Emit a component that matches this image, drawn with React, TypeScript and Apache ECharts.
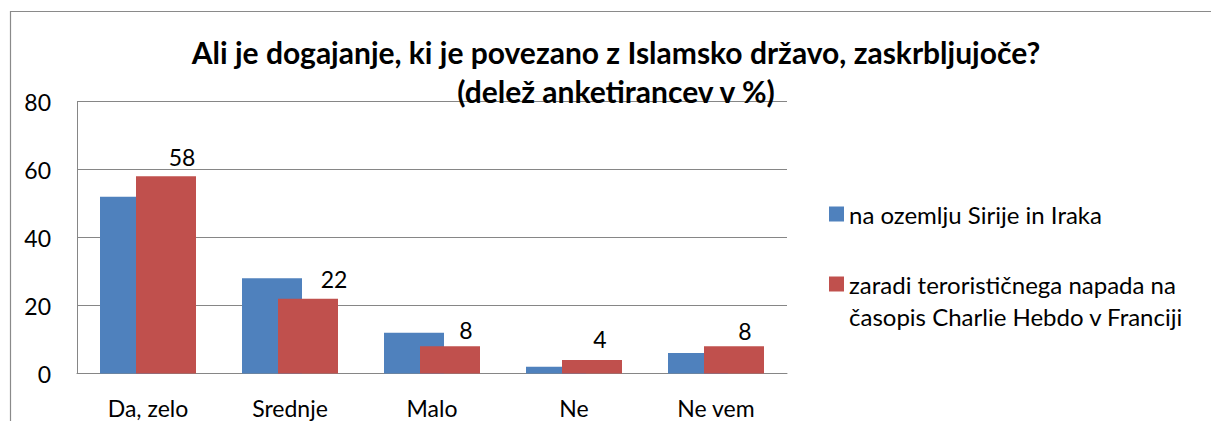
import React, { useEffect, useRef } from "react";
import * as echarts from "echarts";

const categories = ["Da, zelo", "Srednje", "Malo", "Ne", "Ne vem"];
const seriesNames = [
  "na ozemlju Sirije in Iraka",
  "zaradi terorističnega napada na časopis Charlie Hebdo v Franciji",
];
const syriaIraq = [52, 28, 12, 2, 6];
const charlieHebdo = [58, 22, 8, 4, 8];
const yMin = 0;
const yMax = 80;
const yStep = 20;
const titleLines = [
  "Ali je dogajanje, ki je povezano z Islamsko državo, zaskrbljujoče?",
  "(delež anketirancev v %)",
];

// label nudges (styling only) for the red series labels, [dx, dy]
const labelNudges = [
  [16, -1],
  [26, -1],
  [16, 2],
  [8, -2],
  [11, 3],
];

const FONT = "Lato";

export default function App() {
  const ref = useRef<HTMLDivElement>(null);

  useEffect(() => {
    if (!ref.current) return;
    const chart = echarts.init(ref.current, null, { renderer: "svg" });
    const option: any = {
      animation: false,
      backgroundColor: "#ffffff",
      textStyle: { fontFamily: FONT },
      title: {
        text: titleLines.join("\n"),
        left: 616,
        top: 32,
        textAlign: "center",
        padding: 0,
        textStyle: {
          fontFamily: FONT,
          fontWeight: "bold",
          fontSize: 30,
          lineHeight: 39,
          color: "#000000",
        },
      },
      graphic: [
        {
          type: "rect",
          silent: true,
          shape: { x: 10.5, y: 11.5, width: 1400, height: 600 },
          style: { fill: "none", stroke: "#8a8a8a", lineWidth: 1.2 },
          z: -1,
        },
      ],
      legend: {
        orient: "vertical",
        left: 829,
        top: 198,
        itemWidth: 15,
        itemHeight: 15,
        itemGap: 6,
        icon: "rect",
        padding: 0,
        textStyle: {
          fontFamily: FONT,
          fontSize: 24,
          lineHeight: 32,
          color: "#000000",
        },
        formatter: (name: string) =>
          name === seriesNames[1]
            ? "\nzaradi terorističnega napada na\nčasopis Charlie Hebdo v Franciji"
            : name,
        data: [{ name: seriesNames[0] }, { name: seriesNames[1] }],
      },
      grid: {
        left: 77,
        right: 424,
        top: 101.5,
        bottom: 47.5,
        containLabel: false,
      },
      xAxis: {
        type: "category",
        data: categories,
        axisLine: { show: true, lineStyle: { color: "#868686", width: 1 } },
        axisTick: { show: false },
        axisLabel: {
          margin: 23,
          fontFamily: FONT,
          fontSize: 23,
          color: "#000000",
        },
        splitLine: { show: false },
      },
      yAxis: {
        type: "value",
        min: yMin,
        max: yMax,
        interval: yStep,
        axisLine: { show: true, lineStyle: { color: "#868686", width: 1 } },
        axisTick: { show: false },
        axisLabel: {
          margin: 26,
          fontFamily: FONT,
          fontSize: 23,
          color: "#000000",
        },
        splitLine: { show: true, lineStyle: { color: "#868686", width: 1 } },
      },
      series: [
        {
          name: seriesNames[0],
          type: "bar",
          data: syriaIraq,
          barWidth: 60,
          barGap: "-40%",
          itemStyle: { color: "#4F81BD" },
        },
        {
          name: seriesNames[1],
          type: "bar",
          data: charlieHebdo.map((v, i) => ({
            value: v,
            label: { offset: labelNudges[i] },
          })),
          barWidth: 60,
          barGap: "-40%",
          itemStyle: { color: "#C0504D" },
          label: {
            show: true,
            position: "top",
            distance: 7,
            fontFamily: FONT,
            fontSize: 23,
            color: "#000000",
          },
        },
      ],
    };
    chart.setOption(option);
    return () => chart.dispose();
  }, []);

  return (
    <div
      ref={ref}
      style={{
        position: "fixed",
        left: 0,
        top: 0,
        width: 1211,
        height: 421,
        background: "#ffffff",
      }}
    />
  );
}
